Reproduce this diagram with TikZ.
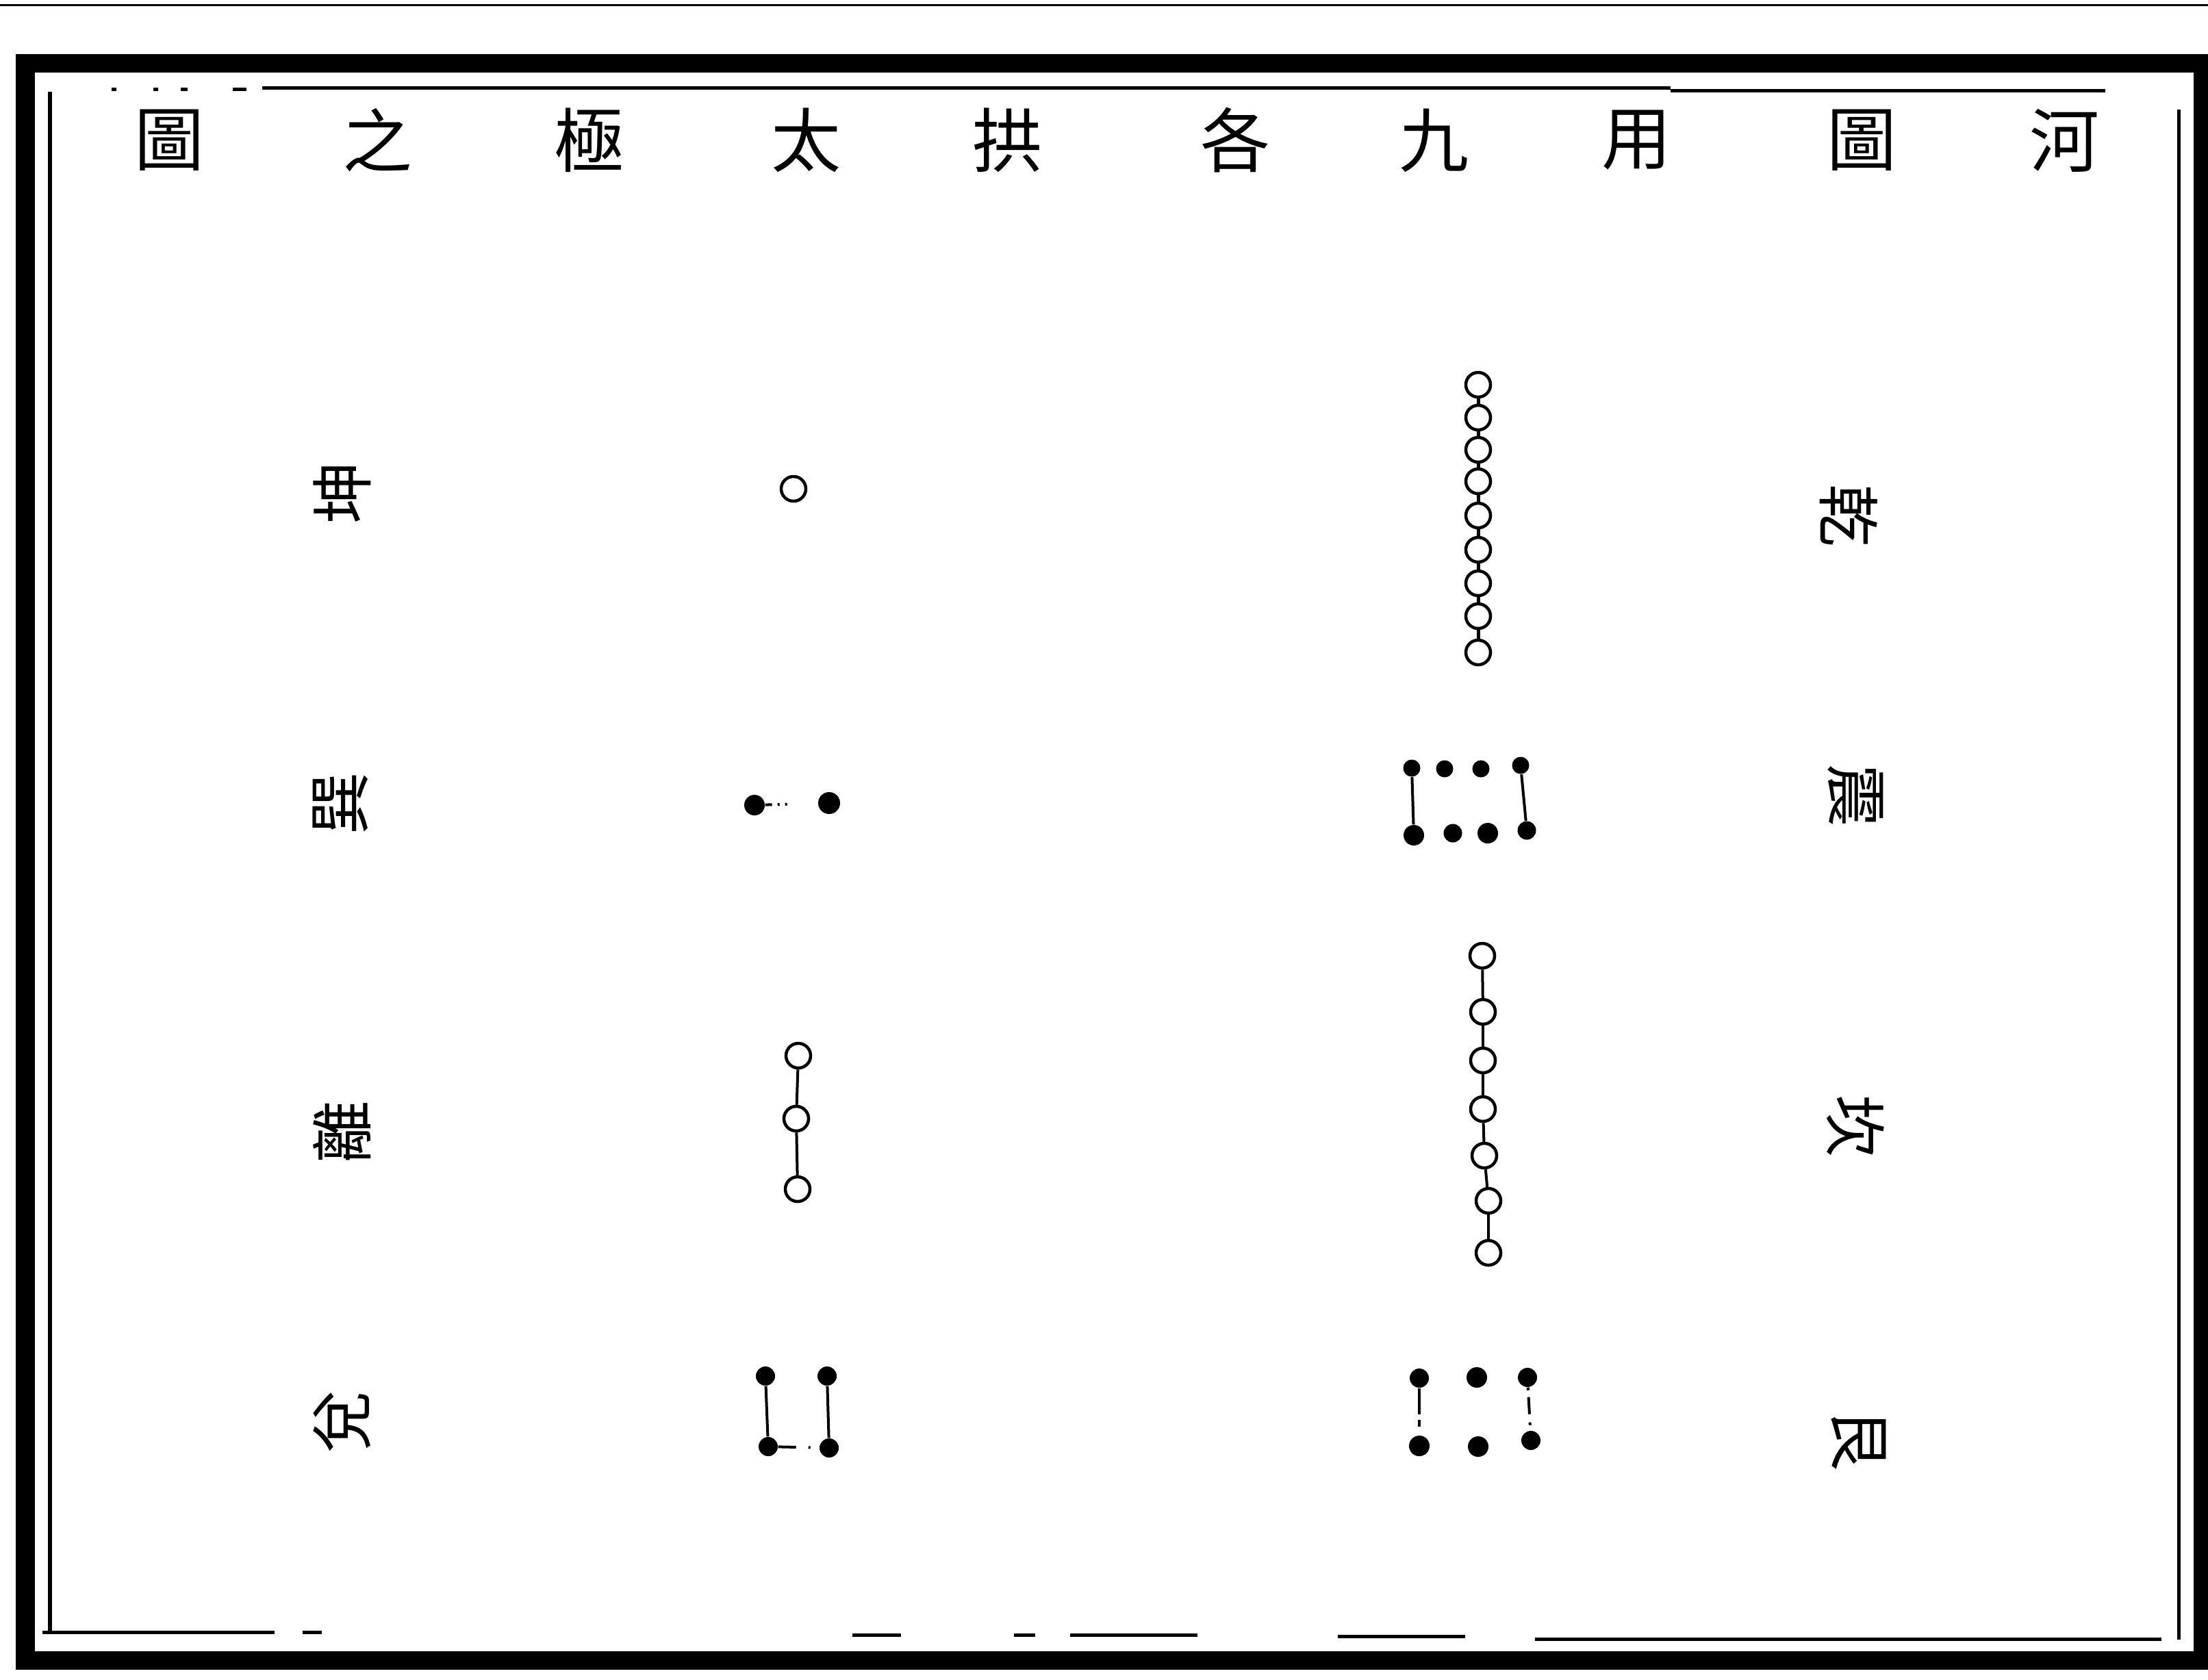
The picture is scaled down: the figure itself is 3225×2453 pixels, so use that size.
\documentclass[tikz,border=0pt]{standalone}
\usepackage{fontspec}
\newfontfamily\cjk{Noto Sans CJK TC}
\begin{document}
\begin{tikzpicture}[x=0.01cm,y=-0.01cm,
  oc/.style={circle,draw,line width=0.045cm,minimum size=0.36cm,inner sep=0pt},
  dotS/.style={circle,fill,minimum size=0.25cm,inner sep=0pt},
  dotL/.style={circle,fill,minimum size=0.30cm,inner sep=0pt},
  link/.style={line width=0.04cm},
  titlech/.style={font=\cjk\fontsize{29}{29}\selectfont,inner sep=0pt},
  rlab/.style={font=\cjk\fontsize{26}{26}\selectfont,inner sep=0pt,rotate=-90},
  llab/.style={font=\cjk\fontsize{26}{26}\selectfont,inner sep=0pt,rotate=90},
  innerline/.style={line width=0.05cm}]
\useasboundingbox (0,0) rectangle (3225,2453);
\fill[white] (0,0) rectangle (3225,2453);
% page edge line
\draw[line width=0.03cm] (0,7) -- (3225,7);
% thick outer border
\draw[line width=0.27cm] (37,92) rectangle (3217,2425);
% inner thin frame lines
\draw[innerline] (73,134) -- (73,2382);
\draw[innerline] (3182,160) -- (3182,2395);
\draw[innerline] (383,128) -- (2440,128);
\draw[innerline] (2440,132) -- (3075,132);
\draw[innerline] (163,130) -- (170,130) (224,130) -- (231,130) (264,130) -- (274,130) (340,130) -- (360,130);
\draw[innerline] (62,2384) -- (401,2384) (442,2384) -- (470,2384)
  (1245,2388) -- (1316,2388) (1481,2388) -- (1512,2388) (1563,2388) -- (1749,2388)
  (1954,2390) -- (2140,2390) (2242,2394) -- (3157,2394);
% title
\node[titlech] (t1) at (3015,205) {河};
\node[titlech] (t2) at (2719,205) {圖};
\node[titlech] (t3) at (2390,205) {用};
\node[titlech] (t4) at (2094,205) {九};
\node[titlech] (t5) at (1804,205) {各};
\node[titlech] (t6) at (1471,205) {拱};
\node[titlech] (t7) at (1177,205) {太};
\node[titlech] (t8) at (860,205) {極};
\node[titlech] (t9) at (551,205) {之};
\node[titlech] (t10) at (247,205) {圖};
% right column labels
\node[rlab] (qian) at (2700,753) {乾};
\node[rlab] (zhen) at (2710,1162) {震};
\node[rlab] (kan) at (2710,1645) {坎};
\node[rlab] (gen) at (2715,2103) {艮};
% left column labels
\node[llab] (kun) at (500,720) {坤};
\node[llab] (xun) at (497,1174) {巽};
\node[llab] (li) at (500,1654) {離};
\node[llab] (dui) at (500,2077) {兌};
% Qian: nine open circles
\foreach \i/\yy in {1/562,2/610,3/657,4/703,5/753,6/803,7/852,8/900,9/953}{
  \node[oc] (q\i) at (2159,\yy) {};
}
\foreach \a/\b in {1/2,2/3,3/4,4/5,5/6,6/7,7/8,8/9}{
  \draw[link,line width=0.05cm] (q\a) -- (q\b);
}
% Zhen: eight dots
\node[dotS] (z1) at (2062,1122) {};
\node[dotS] (z2) at (2110,1123) {};
\node[dotS] (z3) at (2163,1123) {};
\node[dotS] (z4) at (2221,1118) {};
\node[dotL] (z5) at (2065,1220) {};
\node[dotS,minimum size=0.27cm] (z6) at (2122,1217) {};
\node[dotL] (z7) at (2173,1217) {};
\node[dotL,minimum size=0.27cm] (z8) at (2230,1213) {};
\draw[link] (z1) -- (z5);
\draw[link] (z4) -- (z8);
% Kan: seven open circles
\node[oc] (k1) at (2165,1396) {};
\node[oc] (k2) at (2166,1478) {};
\node[oc] (k3) at (2166,1549) {};
\node[oc] (k4) at (2166,1620) {};
\node[oc] (k5) at (2168,1688) {};
\node[oc] (k6) at (2174,1754) {};
\node[oc] (k7) at (2174,1830) {};
\foreach \a/\b in {1/2,2/3,3/4,4/5,5/6,6/7}{
  \draw[link] (k\a) -- (k\b);
}
% Gen: six dots
\node[dotL,minimum size=0.28cm] (g1) at (2073,2013) {};
\node[dotL] (g2) at (2157,2012) {};
\node[dotL,minimum size=0.28cm] (g3) at (2231,2012) {};
\node[dotL] (g4) at (2073,2112) {};
\node[dotL] (g5) at (2159,2113) {};
\node[dotL,minimum size=0.28cm] (g6) at (2236,2104) {};
\draw[link,dash pattern=on 0.38cm off 0.08cm on 0.1cm off 1cm] (g1) -- (g4);
\draw[link,dash pattern=on 0.04cm off 0.1cm on 0.25cm off 0.12cm on 0.04cm off 1cm] (g3) -- (g6);
% Taiji column
\node[oc,minimum size=0.36cm] (c1) at (1159,714) {};
\node[dotL] (x1) at (1102,1176) {};
\node[dotL,minimum size=0.32cm] (x2) at (1211,1173) {};
\draw[link,dash pattern=on 0.1cm off 0.08cm on 0.03cm off 0.08cm on 0.03cm off 1cm] (x1) -- (x2);
\node[oc] (l1) at (1166,1542) {};
\node[oc] (l2) at (1163,1634) {};
\node[oc] (l3) at (1165,1737) {};
\draw[link] (l1) -- (l2);
\draw[link] (l2) -- (l3);
\node[dotL,minimum size=0.28cm] (d1) at (1118,2010) {};
\node[dotL,minimum size=0.28cm] (d2) at (1208,2010) {};
\node[dotL,minimum size=0.28cm] (d3) at (1122,2113) {};
\node[dotL,minimum size=0.28cm] (d4) at (1211,2115) {};
\draw[link] (d1) -- (d3);
\draw[link] (d2) -- (d4);
\draw[link,dash pattern=on 0.26cm off 0.18cm on 0.03cm off 1cm] (d3) -- (d4);
\end{tikzpicture}
\end{document}
